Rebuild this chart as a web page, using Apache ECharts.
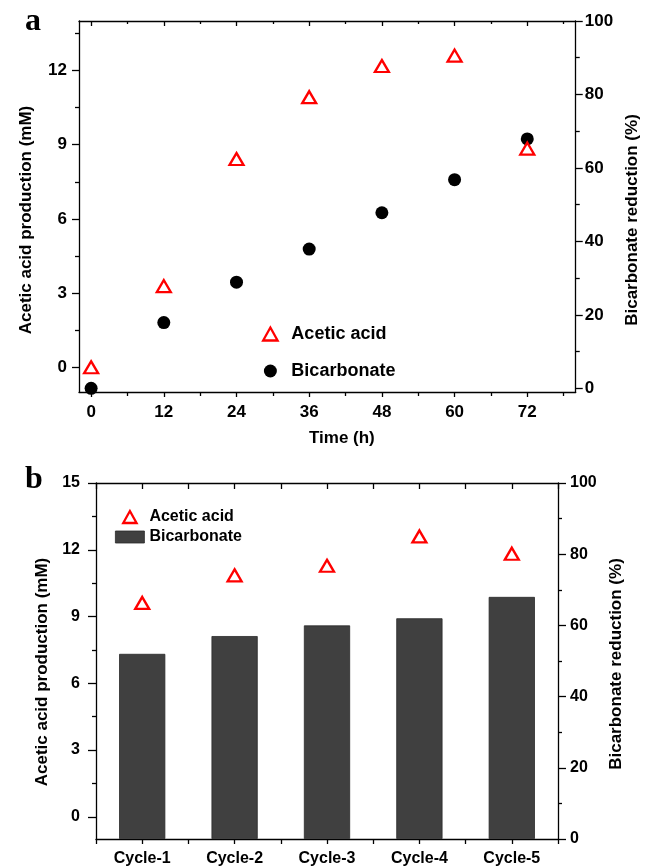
<!DOCTYPE html>
<html><head><meta charset="utf-8">
<script src="https://cdn.jsdelivr.net/npm/echarts@6/dist/echarts.min.js"></script>
<style>html,body{margin:0;padding:0;background:#fff}#c{width:649px;height:867px}</style>
</head><body><div id="c"></div>
<script>
// ---- Panel a data ----
const timeH = [0, 12, 24, 36, 48, 60, 72];
const aceticA = [0.0, 3.28, 8.42, 10.92, 12.18, 12.6, 8.84];
const bicarbA = [0.0, 17.9, 28.9, 37.9, 47.8, 56.8, 67.9];
const timeTicks = [0, 12, 24, 36, 48, 60, 72];
const timeMinor = [6, 18, 30, 42, 54, 66, 78];
const leftTicksA = [0, 3, 6, 9, 12];
const leftMinorA = [1.5, 4.5, 7.5, 10.5, 13.5];
const rightTicksA = [0, 20, 40, 60, 80, 100];
const rightMinorA = [10, 30, 50, 70, 90];
// ---- Panel b data ----
const cycles = ['Cycle-1', 'Cycle-2', 'Cycle-3', 'Cycle-4', 'Cycle-5'];
const aceticB = [9.61, 10.85, 11.28, 12.6, 11.82];
const bicarbB = [52, 57, 60, 62, 68];
const leftTicksB = [0, 3, 6, 9, 12, 15];
const leftMinorB = [1.5, 4.5, 7.5, 10.5, 13.5];
const rightTicksB = [0, 20, 40, 60, 80, 100];
const rightMinorB = [10, 30, 50, 70, 90];

const FONT = '"Liberation Sans", Arial, sans-serif';
const LINE = { color: '#000', width: 1.3 };
const RED = '#ff0000';

function valAxis(o) {
  return {
    type: 'value', gridIndex: o.grid, position: o.pos, min: o.min, max: o.max,
    splitLine: { show: false },
    axisLine: { show: !!o.line, onZero: false, lineStyle: LINE },
    axisTick: { show: true, customValues: o.ticks, length: o.len, inside: !!o.inside, lineStyle: LINE },
    axisLabel: o.labels ? { show: true, customValues: o.ticks, margin: o.margin,
      color: '#000', fontFamily: FONT, fontWeight: 'bold', fontSize: o.fs } : { show: false },
    name: o.name || '', nameLocation: 'middle', nameGap: o.nameGap || 0,
    nameTextStyle: { color: '#000', fontFamily: FONT, fontWeight: 'bold', fontSize: o.nfs || 17, padding: o.npad || 0 }
  };
}
function catAxis(o) {
  return {
    type: 'category', gridIndex: 1, position: o.pos, data: cycles, boundaryGap: true,
    splitLine: { show: false },
    axisLine: { show: !!o.line, onZero: false, lineStyle: LINE },
    axisTick: { show: true, alignWithLabel: !!o.center, interval: 0, length: o.len, inside: !!o.inside, lineStyle: LINE },
    axisLabel: o.labels ? { show: true, interval: 0, margin: o.margin, color: '#000', fontFamily: FONT, fontWeight: 'bold', fontSize: o.fs } : { show: false }
  };
}

const xAxis = [
  valAxis({ grid: 0, pos: 'bottom', min: -2, max: 80, line: true, ticks: timeTicks, len: 5, labels: true, margin: 12, fs: 17,
            name: 'Time (h)', nameGap: 38, npad: [0, 0, 0, 29] }),
  valAxis({ grid: 0, pos: 'bottom', min: -2, max: 80, ticks: timeMinor, len: 4 }),
  valAxis({ grid: 0, pos: 'top', min: -2, max: 80, line: true, ticks: timeTicks, len: 5, inside: true }),
  valAxis({ grid: 0, pos: 'top', min: -2, max: 80, ticks: timeMinor, len: 3, inside: true }),
  catAxis({ pos: 'bottom', line: true, center: true, len: 5, labels: true, margin: 12, fs: 16 }),
  catAxis({ pos: 'bottom', len: 5 }),
  catAxis({ pos: 'top', line: true, center: true, len: 6, inside: true }),
  catAxis({ pos: 'top', len: 6, inside: true })
];
const yAxis = [
  valAxis({ grid: 0, pos: 'left', min: -1, max: 14, line: true, ticks: leftTicksA, len: 7, labels: true, margin: 12, fs: 17,
            name: 'Acetic acid production (mM)', nameGap: 44, npad: [0, 27, 0, 0] }),
  valAxis({ grid: 0, pos: 'left', min: -1, max: 14, ticks: leftMinorA, len: 4 }),
  valAxis({ grid: 0, pos: 'right', min: -1, max: 100, line: true, ticks: rightTicksA, len: 7, labels: true, margin: 9, fs: 17,
            name: 'Bicarbonate reduction (%)', nameGap: 46, npad: [0, 27, 0, 0] }),
  valAxis({ grid: 0, pos: 'right', min: -1, max: 100, ticks: rightMinorA, len: 4 }),
  valAxis({ grid: 1, pos: 'left', min: -1, max: 15, line: true, ticks: leftTicksB, len: 8, labels: true, margin: 16, fs: 16,
            name: 'Acetic acid production (mM)', nameGap: 40, npad: [0, 22, 0, 0] }),
  valAxis({ grid: 1, pos: 'left', min: -1, max: 15, ticks: leftMinorB, len: 4 }),
  valAxis({ grid: 1, pos: 'right', min: 0, max: 100, line: true, ticks: rightTicksB, len: 8, labels: true, margin: 12, fs: 16,
            name: 'Bicarbonate reduction (%)', nameGap: 44, npad: [0, 6, 0, 0] }),
  valAxis({ grid: 1, pos: 'right', min: 0, max: 100, ticks: rightMinorB, len: 4 })
];

const triIcon = 'path://M5,0L10,9L0,9Z';
const triStyle = { color: '#fff', borderColor: RED, borderWidth: 2.3, opacity: 1 };
const barStyle = { color: '#404040', borderColor: '#2a2a2a', borderWidth: 0.8, opacity: 1 };

const option = {
  backgroundColor: '#fff',
  animation: false,
  grid: [
    { left: 79, top: 21, width: 503, height: 371 },
    { left: 96, top: 483, width: 462, height: 358 }
  ],
  xAxis: xAxis,
  yAxis: yAxis,
  legend: [
    { left: 257, top: 320, orient: 'vertical', itemWidth: 32, itemHeight: 13, itemGap: 19, selectedMode: false,
      textStyle: { color: '#000', fontFamily: FONT, fontWeight: 'bold', fontSize: 18 },
      data: [ { name: 'Acetic acid', icon: triIcon, itemStyle: triStyle },
              { name: 'Bicarbonate', icon: 'circle', itemStyle: { color: '#000', borderWidth: 0, opacity: 1 } } ] },
    { left: 110, top: 504, orient: 'vertical', itemWidth: 29, itemHeight: 12, itemGap: 4, selectedMode: false,
      textStyle: { color: '#000', fontFamily: FONT, fontWeight: 'bold', fontSize: 16 },
      data: [ { name: 'Acetic acid', icon: triIcon, itemStyle: triStyle },
              { name: 'Bicarbonate', icon: 'rect', itemStyle: barStyle } ] }
  ],
  graphic: [
    { type: 'text', left: 25, top: 6, style: { text: 'a', font: 'bold 32px "Liberation Serif", "Times New Roman", serif', fill: '#000' } },
    { type: 'text', left: 25, top: 464, style: { text: 'b', font: 'bold 32px "Liberation Serif", "Times New Roman", serif', fill: '#000' } }
  ],
  series: [
    { name: 'Acetic acid', type: 'scatter', xAxisIndex: 0, yAxisIndex: 0, z: 4,
      symbol: 'triangle', symbolSize: [14, 12], itemStyle: triStyle,
      data: timeH.map((t, i) => [t, aceticA[i]]) },
    { name: 'Bicarbonate', type: 'scatter', xAxisIndex: 0, yAxisIndex: 2, z: 3,
      symbol: 'circle', symbolSize: 13, itemStyle: { color: '#000', opacity: 1 },
      data: timeH.map((t, i) => [t, bicarbA[i]]) },
    { name: 'Bicarbonate', type: 'bar', xAxisIndex: 4, yAxisIndex: 6, barWidth: '50%',
      itemStyle: barStyle, data: bicarbB },
    { name: 'Acetic acid', type: 'scatter', xAxisIndex: 4, yAxisIndex: 4, z: 4,
      symbol: 'triangle', symbolSize: [14, 12], itemStyle: triStyle,
      data: aceticB }
  ]
};
const chart = echarts.init(document.getElementById('c'), null, { renderer: 'canvas' });
chart.setOption(option);
</script>
</body></html>
